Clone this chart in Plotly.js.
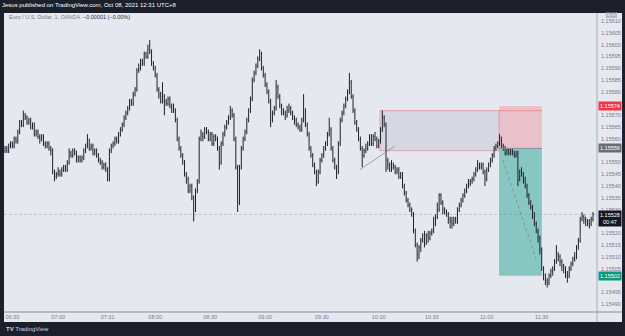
<!DOCTYPE html>
<html>
<head>
<meta charset="utf-8">
<script src="https://cdn.plot.ly/plotly-3.0.1.min.js"></script>
<style>html,body{margin:0;padding:0;background:#1c202b;}#chart{width:625px;height:336px;}</style>
</head>
<body>
<div id="chart"></div>
<script>
// Prices are stored in units of 0.00001 above 1.15000 (e.g. 556 -> 1.15556)
const BASE = 1.15;
const openPts = [
555,556,555,557,558,557,560,559,563,567,
566,570,569,567,568,565,566,562,563,561,
560,561,558,557,558,556,555,546,544,545,
546,545,547,548,547,550,554,553,555,554,
551,552,551,552,555,557,560,556,557,554,
555,553,551,550,548,549,547,543,555,557,
558,560,559,562,564,566,569,571,573,576,
575,579,581,589,590,593,592,596,595,598,
597,592,590,587,581,579,576,578,576,575,
577,574,573,572,568,560,556,553,550,545,
543,538,540,535,530,538,542,560,562,561,
564,563,560,562,558,561,560,556,550,558,
562,565,567,569,572,570,560,548,533,548,
556,560,563,568,572,577,585,588,591,594,
596,590,587,583,580,576,569,571,573,582,
578,574,572,571,570,572,573,571,569,568,
566,565,564,568,572,566,562,556,553,549,
546,542,546,551,553,556,558,562,564,556,
551,548,546,558,568,571,574,577,580,584,
578,572,567,564,560,556,553,555,556,558,
560,558,561,560,557,559,564,569,566,551,
549,547,549,548,546,547,544,545,540,537,
534,532,530,528,521,515,511,514,517,519,
516,519,518,520,521,524,527,530,536,533,
530,529,528,526,525,524,526,525,530,532,
534,536,538,540,541,542,543,545,547,549,
548,549,546,543,547,549,551,553,556,557,
558,560,557,556,554,555,554,555,554,553,
554,543,546,545,543,540,536,533,531,528,
524,521,518,513,505,502,500,499,502,504,
505,508,511,510,508,506,505,503,502,505,
507,509,510,514,517,526,527,526,525,525,524,526
];
const highPts = [
557,557,558,559,559,561,561,564,568,568,
572,571,570,569,569,567,567,564,564,562,
562,562,559,559,559,557,556,547,546,548,
547,548,549,549,551,556,555,556,556,555,
553,553,553,556,558,562,560,558,558,556,
556,554,552,551,550,550,548,556,558,559,
561,561,563,565,567,570,572,574,577,577,
580,582,590,592,594,594,597,597,600,602,
598,593,591,588,582,580,584,579,577,578,
578,575,575,573,569,561,557,554,551,546,
544,541,541,536,539,543,561,564,563,565,
565,564,563,563,562,562,561,557,559,563,
566,568,570,574,573,571,561,549,549,557,
561,564,569,573,578,586,589,592,595,598,
597,591,588,584,581,577,572,574,585,583,
579,575,573,572,574,575,574,572,570,569,
567,566,569,579,573,567,563,557,554,550,
547,547,552,554,557,559,563,569,565,557,
552,549,559,569,572,575,578,581,588,585,
579,573,568,565,561,557,556,558,559,562,
562,562,563,561,560,565,572,570,567,552,
550,551,550,549,548,548,546,546,541,538,
535,533,531,529,522,516,515,518,520,521,
520,521,521,522,527,528,533,537,537,534,
531,530,529,527,527,527,527,531,533,535,
537,539,541,543,543,544,546,548,551,550,
550,550,547,548,550,552,554,557,558,559,
562,561,558,557,556,556,556,556,555,555,
555,547,548,546,544,541,537,534,532,529,
525,522,519,514,506,503,501,503,505,506,
509,515,512,511,509,507,506,504,506,508,
510,512,515,518,527,529,528,527,526,526,527,529
];
const lowPts = [
554,554,554,556,556,556,558,558,562,565,
565,568,566,566,564,564,561,561,560,558,
559,557,556,556,555,553,545,542,543,544,
544,544,546,546,546,549,552,552,553,550,
550,550,550,551,554,556,555,555,553,553,
552,550,549,547,547,546,542,542,554,556,
557,558,558,561,563,565,568,570,572,574,
574,578,580,588,589,591,591,594,594,596,
591,589,586,580,577,575,575,570,574,574,
573,571,571,567,559,555,552,549,544,541,
537,537,534,525,529,537,541,559,559,560,
562,559,559,557,557,559,555,547,549,557,
561,564,566,568,569,559,547,529,532,547,
555,559,562,567,571,576,584,587,590,593,
589,586,582,579,575,565,567,570,572,577,
573,570,570,568,569,571,570,568,566,565,
564,563,563,567,565,561,555,552,548,545,
540,541,545,550,552,555,557,561,555,550,
547,543,545,557,567,570,573,576,579,577,
571,566,563,559,555,548,552,554,555,557,
557,557,559,556,556,558,563,565,546,547,
546,546,547,545,545,543,543,539,536,533,
531,529,527,520,514,508,509,512,516,514,
515,516,517,519,520,523,526,529,532,528,
528,527,524,522,522,523,524,524,529,531,
533,535,537,539,540,541,542,544,546,547,
547,545,540,542,546,548,550,552,555,556,
557,556,555,553,553,553,553,553,552,552,
540,542,544,541,539,535,532,530,526,523,
520,516,511,504,500,498,497,498,501,502,
504,507,508,506,504,503,501,499,501,504,
506,508,509,513,516,525,524,523,523,522,523,525
];
const closePts = [
556,555,557,558,557,560,559,563,567,566,
570,569,567,568,565,566,562,563,561,560,
561,558,557,558,556,555,546,544,545,546,
545,547,548,547,550,554,553,555,554,551,
552,551,552,555,557,560,556,557,554,555,
553,551,550,548,549,547,543,555,557,558,
560,559,562,564,566,569,571,573,576,575,
579,581,589,590,593,592,596,595,598,597,
592,590,587,581,579,576,578,576,575,577,
574,573,572,568,560,556,553,550,545,543,
538,540,535,530,538,542,560,562,561,564,
563,560,562,558,561,560,556,550,558,562,
565,567,569,572,570,560,548,533,548,556,
560,563,568,572,577,585,588,591,594,596,
590,587,583,580,576,569,571,573,582,578,
574,572,571,570,572,573,571,569,568,566,
565,564,568,572,566,562,556,553,549,546,
542,546,551,553,556,558,562,564,556,551,
548,546,558,568,571,574,577,580,584,578,
572,567,564,560,556,553,555,556,558,560,
558,561,560,557,559,564,569,566,551,549,
547,549,548,546,547,544,545,540,537,534,
532,530,528,521,515,511,514,517,519,516,
519,518,520,521,524,527,530,536,533,530,
529,528,526,525,524,526,525,530,532,534,
536,538,540,541,542,543,545,547,549,548,
549,546,543,547,549,551,553,556,557,558,
560,557,556,554,555,554,555,554,553,554,
543,546,545,543,540,536,533,531,528,524,
521,518,513,505,502,500,499,502,504,505,
508,511,510,508,506,505,503,502,505,507,
509,510,514,517,526,527,526,525,525,524,526,528
];

// Time axis labels (bar index where each label sits)
const timeLabels = ["06:30","07:00","07:31","08:00","08:30","09:00","09:30","10:00","10:30","11:00","11:30"];
const timeLabelBars = [4,29,56,82,112,142,173,204,233,263,293];

// Price axis labels (levels hidden behind the coloured price tags are omitted)
const priceTicks = [1.15490,1.15495,1.15505,1.15510,1.15515,1.15520,1.15530,1.15535,1.15540,1.15545,1.15550,1.15560,1.15565,1.15570,1.15580,1.15585,1.15590,1.15595,1.15600,1.15605,1.15610];

// Position tool (short) and drawings
const entryPrice = 1.15556;
const stopPrice = 1.15574;
const targetPrice = 1.15502;
const lastPrice = 1.15528;
const countdown = "00:47";
const positionBars = [269.7, 293.1];
const rangeBoxBars = [204.7, 269.7];
const rangeBoxPrices = [1.15555, 1.15572];
const trendBars = [193.8, 212.9];
const trendPrices = [1.15547, 1.15557];
const diagBars = [271.8, 290.4];
const diagPrices = [1.15551, 1.15508];

const toPrice = v => +(BASE + v / 1e5).toFixed(5);
const xIdx = closePts.map((_, i) => i);

const barColor = '#1e222d';
const trace = {
  type: 'ohlc',
  x: xIdx,
  open: openPts.map(toPrice),
  high: highPts.map(toPrice),
  low: lowPts.map(toPrice),
  close: closePts.map(toPrice),
  increasing: {line: {color: barColor, width: 1}},
  decreasing: {line: {color: barColor, width: 1}},
  tickwidth: 0.22,
  hoverinfo: 'skip'
};

const FONT = 'Liberation Sans, Arial, sans-serif';
const light = '#e6e8f0';
const dark = '#1c202b';

const shapes = [
  {type:'rect', xref:'paper', yref:'paper', x0:0, x1:1.0422, y0:-0.0334, y1:1, fillcolor:light, line:{width:0}, layer:'below'},
  {type:'rect', xref:'x', yref:'y', x0:rangeBoxBars[0], x1:rangeBoxBars[1], y0:rangeBoxPrices[0], y1:rangeBoxPrices[1], fillcolor:'rgba(175,178,190,0.3)', line:{color:'rgba(242,54,69,0.35)', width:1}, layer:'below'},
  {type:'rect', xref:'x', yref:'y', x0:positionBars[0], x1:positionBars[1], y0:entryPrice, y1:stopPrice, fillcolor:'rgba(242,54,69,0.22)', line:{width:0}, layer:'below'},
  {type:'rect', xref:'x', yref:'y', x0:positionBars[0], x1:positionBars[1], y0:targetPrice, y1:entryPrice, fillcolor:'rgba(8,153,129,0.42)', line:{width:0}, layer:'below'},
  {type:'line', xref:'x', yref:'y', x0:positionBars[0], x1:positionBars[1], y0:rangeBoxPrices[1], y1:rangeBoxPrices[1], line:{color:'rgba(242,54,69,0.35)', width:1}},
  {type:'line', xref:'x', yref:'y', x0:positionBars[0], x1:positionBars[1], y0:entryPrice, y1:entryPrice, line:{color:'#8a8d99', width:1}},
  {type:'line', xref:'x', yref:'y', x0:diagBars[0], x1:diagBars[1], y0:diagPrices[0], y1:diagPrices[1], line:{color:'#7d8190', width:0.8, dash:'dot'}},
  {type:'line', xref:'x', yref:'y', x0:trendBars[0], x1:trendBars[1], y0:trendPrices[0], y1:trendPrices[1], line:{color:'#8a8d99', width:0.8}},
  {type:'line', xref:'paper', yref:'y', x0:0, x1:1, y0:lastPrice, y1:lastPrice, line:{color:'rgba(120,123,134,0.35)', width:1, dash:'3px,2px'}},
  {type:'line', xref:'paper', yref:'paper', x0:0, x1:1.0422, y0:0, y1:0, line:{color:'#a9acb6', width:1.5}},
  {type:'line', xref:'paper', yref:'paper', x0:1, x1:1, y0:-0.0334, y1:1, line:{color:'#a9acb6', width:1}}
];

const lbl = (text, price, bg, color) => ({
  xref:'paper', yref:'y', x:1, y:price, xanchor:'left', yanchor:'middle', xshift:1,
  text:text, showarrow:false, bgcolor:bg, borderpad:1,
  font:{family:FONT, size:5.5, color:color}
});

const annotations = [
  {xref:'paper', yref:'paper', x:-0.006, y:1, xanchor:'left', yanchor:'bottom', yshift:2.5, text:'Jesus published on TradingView.com, Oct 08, 2021 12:31 UTC+8', showarrow:false, font:{family:FONT, size:6, color:'#ffffff'}},
  {xref:'paper', yref:'paper', x:0.005, y:1, xanchor:'left', yanchor:'top', yshift:1.5, text:'<span style="color:#787b86">Euro / U.S. Dollar, 1, OANDA</span>  <span style="color:#2a2e39">\u22120.00001 (\u22120.00%)</span>', showarrow:false, font:{family:FONT, size:5.5, color:'#787b86'}},
  {xref:'paper', yref:'paper', x:1, y:1, xanchor:'left', yanchor:'middle', xshift:9, yshift:-2.2, text:'USD', showarrow:false, bordercolor:'#9598a1', borderwidth:0.5, borderpad:0, font:{family:FONT, size:4.5, color:'#787b86'}},
  lbl(stopPrice.toFixed(5), stopPrice, '#f23645', '#ffffff'),
  lbl(entryPrice.toFixed(5), entryPrice, '#6a6d78', '#ffffff'),
  Object.assign(lbl(lastPrice.toFixed(5) + '<br>' + countdown, lastPrice, '#131722', '#ffffff'), {yanchor:'top', yshift:4}),
  lbl(targetPrice.toFixed(5), targetPrice, '#089981', '#ffffff'),
  {xref:'paper', yref:'paper', x:0, y:-0.0569, xanchor:'left', yanchor:'middle', text:'<b>TV</b> TradingView', showarrow:false, font:{family:FONT, size:6, color:'#d1d4dc'}}
];

const layout = {
  width:625, height:336,
  margin:{l:4, r:28, t:13, b:24, pad:0},
  paper_bgcolor:dark,
  plot_bgcolor:light,
  showlegend:false,
  xaxis:{
    range:[-0.546, 323.18], showgrid:false, zeroline:false, showline:false,
    tickvals:timeLabelBars, ticktext:timeLabels, ticks:'', ticklen:0,
    tickfont:{family:FONT, size:5.5, color:'#787b86'},
    rangeslider:{visible:false}, fixedrange:true
  },
  yaxis:{
    side:'right', range:[1.154866, 1.156134], showgrid:false, zeroline:false, showline:false,
    tickvals:priceTicks, ticktext:priceTicks.map(v => v.toFixed(5)), ticks:'', ticklen:0,
    tickfont:{family:FONT, size:5.5, color:'#787b86'}, ticklabelstandoff:3, fixedrange:true
  },
  shapes:shapes,
  annotations:annotations
};

Plotly.newPlot('chart', [trace], layout, {displayModeBar:false, staticPlot:true});
</script>
</body>
</html>
